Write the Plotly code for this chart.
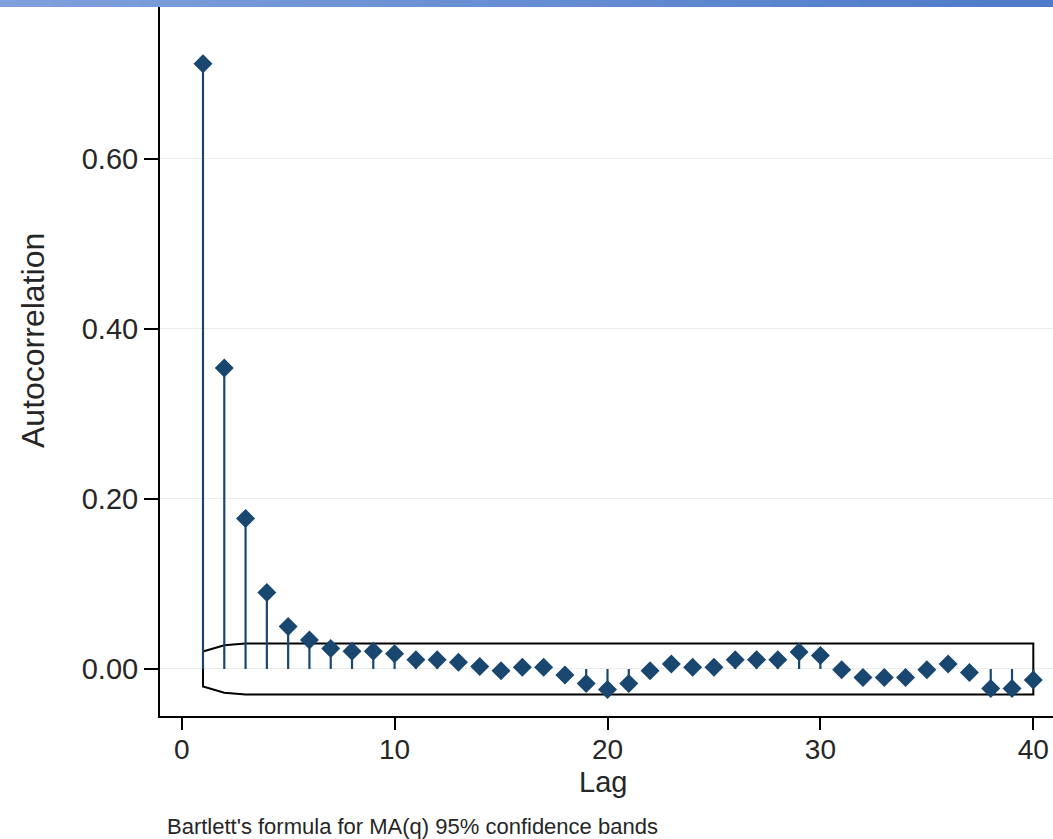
import plotly.graph_objects as go

lags = list(range(1, 41))
acf = [0.712, 0.354, 0.177, 0.090, 0.050, 0.034, 0.024, 0.021, 0.021, 0.018,
       0.011, 0.011, 0.008, 0.003, -0.002, 0.002, 0.002, -0.007, -0.017, -0.024,
       -0.017, -0.002, 0.006, 0.002, 0.002, 0.011, 0.011, 0.011, 0.020, 0.016,
       -0.001, -0.010, -0.010, -0.010, -0.001, 0.006, -0.004, -0.023, -0.023, -0.013]
ci = [0.0205, 0.028] + [0.030] * 38

y_ticks = [0.0, 0.2, 0.4, 0.6]
y_tick_labels = ["0.00", "0.20", "0.40", "0.60"]
x_ticks = [0, 10, 20, 30, 40]

NAVY = "#1a476f"
TXT = "#262626"
FONT = "Liberation Sans, Arial, sans-serif"

fig = go.Figure()

# confidence band (closed outline)
band_x = lags + lags[::-1] + [lags[0]]
band_y = ci + [-c for c in ci[::-1]] + [ci[0]]
fig.add_trace(go.Scatter(x=band_x, y=band_y, mode="lines",
                         line=dict(color="black", width=2), hoverinfo="skip",
                         showlegend=False))

# stems
sx, sy = [], []
for l, v in zip(lags, acf):
    sx += [l, l, None]
    sy += [0, v, None]
fig.add_trace(go.Scatter(x=sx, y=sy, mode="lines",
                         line=dict(color=NAVY, width=2.2), showlegend=False,
                         hoverinfo="skip"))

# markers
fig.add_trace(go.Scatter(x=lags, y=acf, mode="markers",
                         marker=dict(symbol="diamond", size=13, color=NAVY,
                                     line=dict(color=NAVY, width=1.5)),
                         showlegend=False))

W, H = 1053, 839
L, B = 160, 123
PW, PH = W - L, H - B

# gradient strip at the top
n = 60
c0 = (127, 160, 220)
c1 = (77, 123, 201)
x_start = -L / PW
for i in range(n):
    t = i / (n - 1)
    col = "rgb(%d,%d,%d)" % tuple(round(a + (b - a) * t) for a, b in zip(c0, c1))
    xa = x_start + (1 - x_start) * i / n
    xb = x_start + (1 - x_start) * (i + 1) / n + 0.002
    fig.add_shape(type="rect", xref="paper", yref="paper",
                  x0=xa, x1=xb, y0=1 - 7 / PH, y1=1.01,
                  fillcolor=col, line=dict(width=0), layer="above")

fig.add_annotation(text="Autocorrelation", textangle=-90, xref="paper", yref="paper",
                   x=(33 - L) / PW, y=(PH - 340) / PH, xanchor="center", yanchor="middle",
                   showarrow=False, font=dict(family=FONT, size=32, color=TXT))
fig.add_annotation(text="Lag", xref="paper", yref="paper",
                   x=(603 - L) / PW, y=(PH - 782) / PH, xanchor="center", yanchor="middle",
                   showarrow=False, font=dict(family=FONT, size=29, color=TXT))
fig.add_annotation(text="Bartlett's formula for MA(q) 95% confidence bands",
                   xref="paper", yref="paper", x=(165 - L) / PW, y=(PH - 826) / PH,
                   xanchor="left", yanchor="middle", showarrow=False,
                   font=dict(family=FONT, size=22, color=TXT))

fig.update_layout(
    width=W, height=H,
    margin=dict(l=L, r=0, t=0, b=B),
    paper_bgcolor="white", plot_bgcolor="white",
    font=dict(family=FONT, color=TXT),
)
fig.update_xaxes(range=[-1.019, 40.925], tickvals=x_ticks, ticks="outside",
                 ticklen=12, tickwidth=2, tickcolor="black",
                 showline=True, linecolor="black", linewidth=2,
                 showgrid=False, zeroline=False, ticklabelstandoff=-5,
                 tickfont=dict(size=28, family=FONT, color=TXT))
fig.update_yaxes(range=[-0.0553, 0.787], tickvals=y_ticks, ticktext=y_tick_labels,
                 ticks="outside", ticklen=14, tickwidth=2, tickcolor="black",
                 showline=True, linecolor="black", linewidth=2,
                 showgrid=True, gridcolor="#ececec", gridwidth=1, zeroline=False,
                 tickfont=dict(size=29, family=FONT, color=TXT))

fig.write_html("out.html")
